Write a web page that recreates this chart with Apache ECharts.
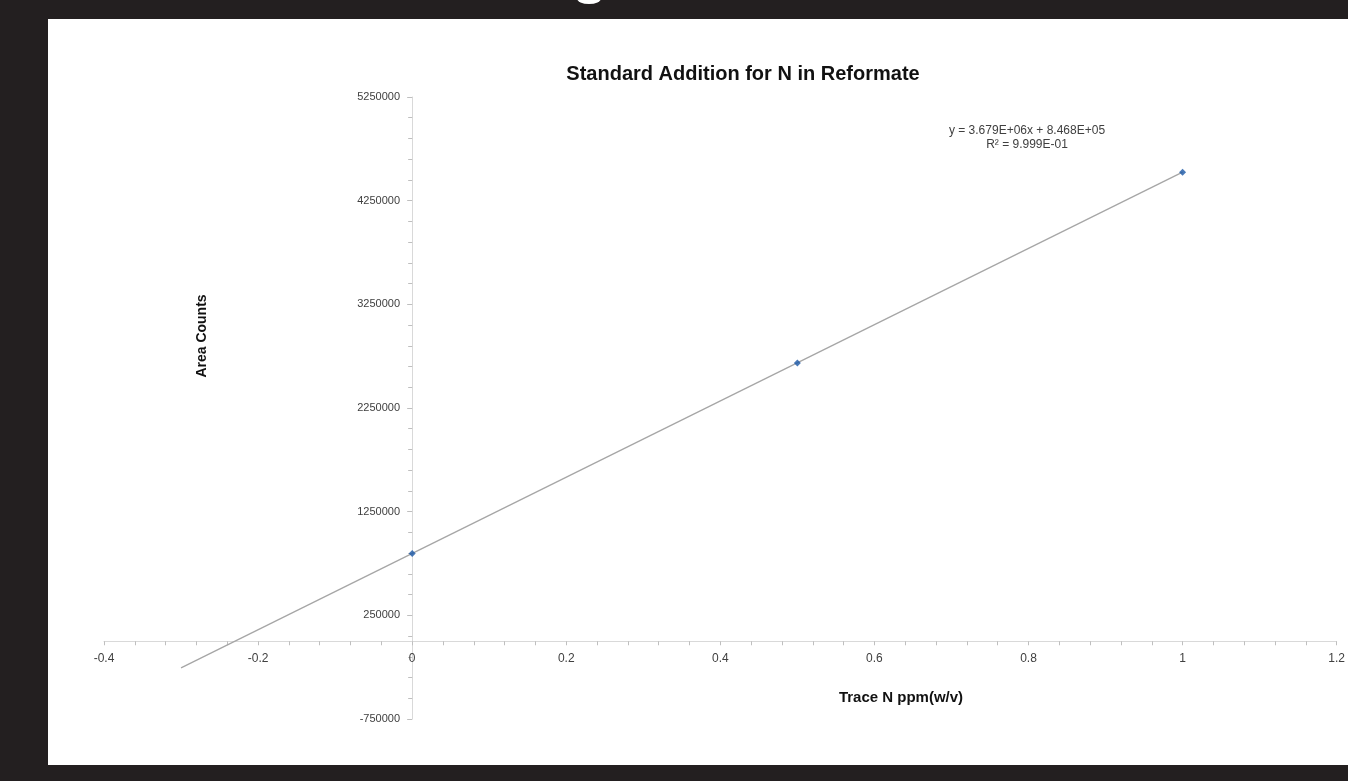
<!DOCTYPE html>
<html>
<head>
<meta charset="utf-8">
<script src="https://cdn.jsdelivr.net/npm/echarts@6/dist/echarts.min.js"></script>
<style>
  html, body { margin: 0; padding: 0; background: #231f20; overflow: hidden; }
  #panel { position: absolute; left: 48px; top: 19px; width: 1300px; height: 746px; background: #ffffff; }
  #blob { position: absolute; left: 577px; top: -7px; width: 24px; height: 11px; border-radius: 50%; background: #ffffff; }
</style>
</head>
<body>
<div id="blob"></div>
<div id="panel"></div>
<script>
// data
var concentrations = [0, 0.5, 1];            // Trace N ppm(w/v)
var areaCounts = [846000, 2685000, 4525000]; // Area Counts
// trendline as printed on the chart
var trendSlope = 3.679e6;
var trendIntercept = 8.468e5;
var trendRange = [-0.3, 1];
var equationText = 'y = 3.679E+06x + 8.468E+05';
var r2Text = 'R² = 9.999E-01';

var font = '"Liberation Sans", Arial, sans-serif';

var points = concentrations.map(function(x, i) { return [x, areaCounts[i]]; });
var trendPoints = trendRange.map(function(x) { return [x, trendSlope * x + trendIntercept]; });

var myChart = echarts.init(document.getElementById('panel'));

var option = {
    animation: false,
    textStyle: { fontFamily: font },
    grid: { left: 56, right: 9, top: 78, bottom: 46, containLabel: false },
    xAxis: {
        type: 'value',
        min: -0.4,
        max: 1.2,
        interval: 0.2,
        axisLine: { onZero: true, lineStyle: { color: '#d9d9d9', width: 1 } },
        axisTick: { show: true, length: 4, lineStyle: { color: '#bfbfbf' } },
        minorTick: { show: true, splitNumber: 5, length: 4, lineStyle: { color: '#bfbfbf' } },
        splitLine: { show: false },
        // labels sit just under the zero line, not at the grid bottom
        axisLabel: { color: '#404040', fontSize: 12, margin: -66, fontFamily: font }
    },
    yAxis: {
        type: 'value',
        min: -750000,
        max: 5250000,
        interval: 1000000,
        axisLine: { show: true, onZero: true, lineStyle: { color: '#d9d9d9', width: 1 } },
        axisTick: { show: true, length: 5, lineStyle: { color: '#bfbfbf' } },
        minorTick: { show: true, splitNumber: 5, length: 4, lineStyle: { color: '#bfbfbf' } },
        splitLine: { show: false },
        // labels sit left of the x=0 line
        axisLabel: {
            color: '#404040', fontSize: 11, margin: -296, fontFamily: font,
            formatter: function(v) { return String(v); }
        }
    },
    series: [
        {
            name: 'trend',
            type: 'line',
            data: trendPoints,
            showSymbol: false,
            symbol: 'none',
            lineStyle: { color: '#a6a6a6', width: 1.3 },
            z: 1
        },
        {
            name: 'Area Counts',
            type: 'scatter',
            data: points,
            symbol: 'diamond',
            symbolSize: 7,
            itemStyle: { color: '#1a57a6' },
            z: 3
        }
    ],
    graphic: [
        {
            type: 'text', x: 695, y: 55,
            style: { text: 'Standard Addition for N in Reformate', font: 'bold 20px ' + font,
                     fill: '#111111', align: 'center', verticalAlign: 'middle' }
        },
        {
            type: 'text', x: 979, y: 112,
            style: { text: equationText, font: '12px ' + font, fill: '#404040',
                     align: 'center', verticalAlign: 'middle' }
        },
        {
            type: 'text', x: 979, y: 126,
            style: { text: r2Text, font: '12px ' + font, fill: '#404040',
                     align: 'center', verticalAlign: 'middle' }
        },
        {
            type: 'text', x: 154, y: 317, rotation: Math.PI / 2,
            style: { text: 'Area Counts', font: 'bold 14px ' + font, fill: '#111111',
                     align: 'center', verticalAlign: 'middle' }
        },
        {
            type: 'text', x: 853, y: 679,
            style: { text: 'Trace N ppm(w/v)', font: 'bold 15px ' + font, fill: '#111111',
                     align: 'center', verticalAlign: 'middle' }
        }
    ]
};

myChart.setOption(option);
</script>
</body>
</html>
